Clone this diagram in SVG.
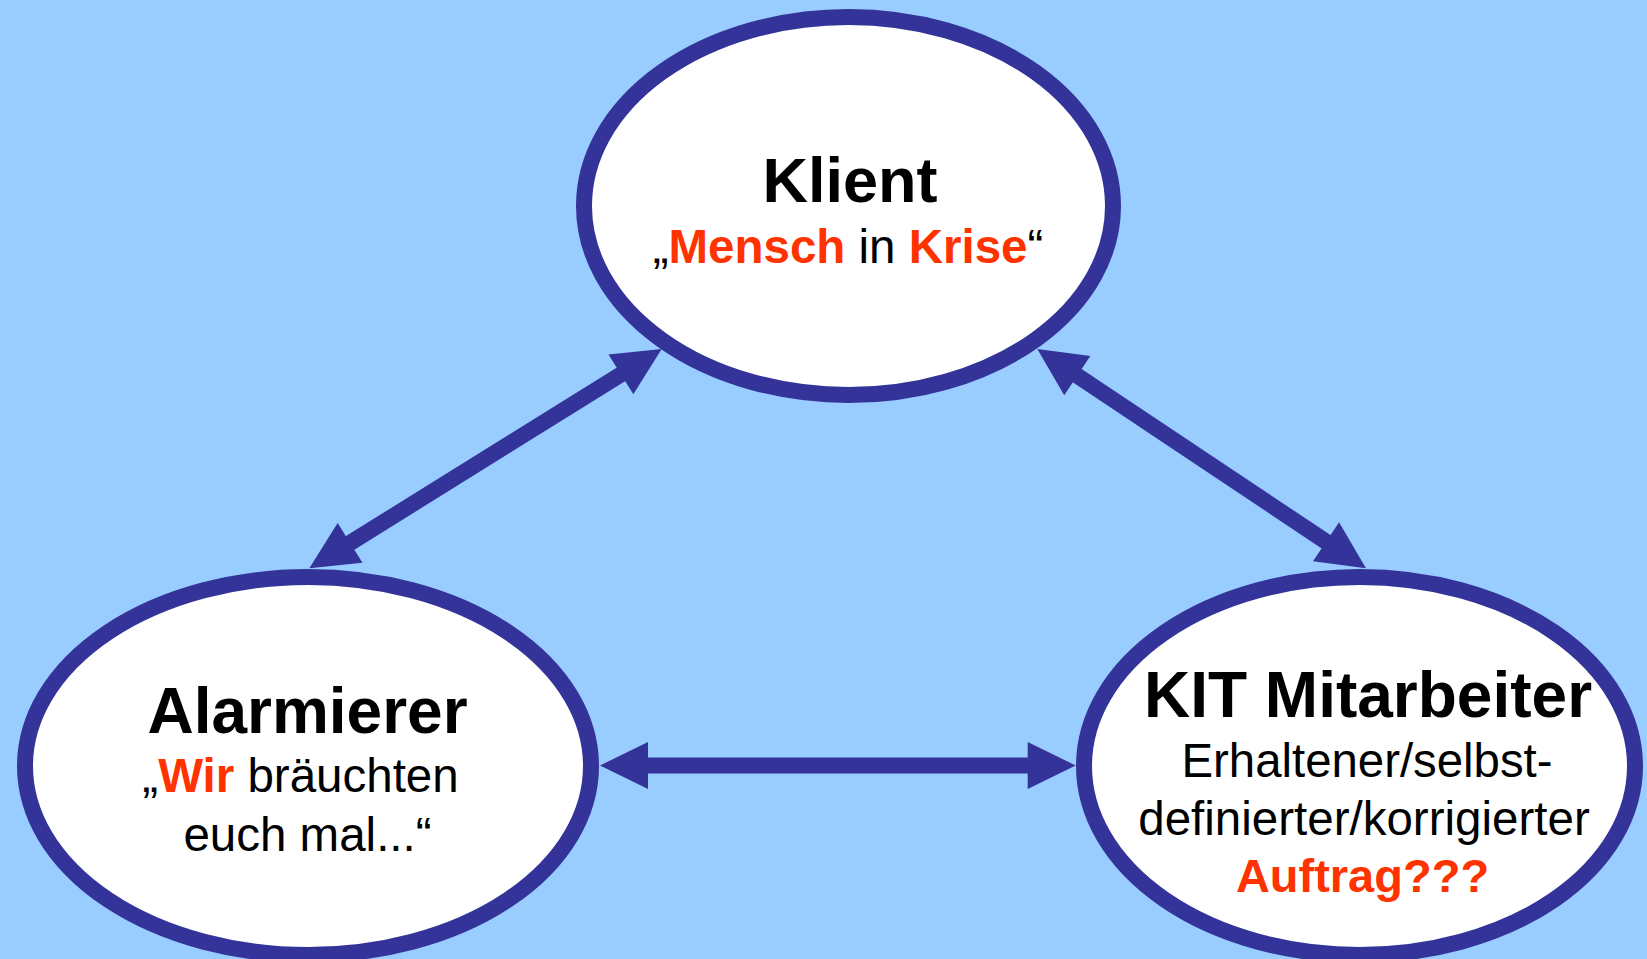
<svg xmlns="http://www.w3.org/2000/svg" width="1647" height="959" viewBox="0 0 1647 959">
  <style>
    .node ellipse { fill: #FFFFFF; stroke: #333399; stroke-width: 16; }
    text { font-family: "Liberation Sans", Arial, sans-serif; text-anchor: middle; fill: #000000; }
    .title { font-weight: bold; font-size: 64px; }
    .sub { font-size: 47.5px; }
    .red { fill: #FF3300; font-weight: bold; }
    .conn { stroke: #333399; stroke-width: 16; fill: none; marker-start: url(#head); marker-end: url(#head); }
  </style>
  <defs>
    <marker id="head" viewBox="0 0 48 47" markerUnits="userSpaceOnUse" markerWidth="48" markerHeight="47" refX="24" refY="23.5" orient="auto-start-reverse" overflow="visible">
      <path d="M0,0 L48,23.5 L0,47 Z" fill="#333399"/>
    </marker>
  </defs>
  <rect x="0" y="0" width="1647" height="959" fill="#99CCFF"/>

  <g id="connectors">
    <line class="conn" x1="329.7" y1="555.6" x2="641.3" y2="361.7"/>
    <line class="conn" x1="1057.3" y1="362.3" x2="1346.0" y2="555.0"/>
    <line class="conn" x1="624" y1="765.5" x2="1051.7" y2="765.5"/>
  </g>

  <g id="klient" class="node">
    <ellipse cx="848.5" cy="206" rx="264.5" ry="189"/>
    <text class="title" x="850" y="202" style="font-size:63px">Klient</text>
    <text class="sub" x="848" y="263">„<tspan class="red">Mensch</tspan> in <tspan class="red">Krise</tspan>“</text>
  </g>

  <g id="alarmierer" class="node">
    <ellipse cx="308" cy="766" rx="283" ry="189"/>
    <text class="title" x="307.5" y="733">Alarmierer</text>
    <text class="sub" x="300.5" y="792">„<tspan class="red">Wir</tspan> bräuchten</text>
    <text class="sub" x="307.5" y="851">euch mal...“</text>
  </g>

  <g id="kit" class="node">
    <ellipse cx="1359.5" cy="766" rx="275.5" ry="189"/>
    <text class="title" x="1368" y="717">KIT Mitarbeiter</text>
    <text class="sub" x="1367" y="777" textLength="371" lengthAdjust="spacingAndGlyphs">Erhaltener/selbst-</text>
    <text class="sub" x="1364" y="835">definierter/korrigierter</text>
    <text class="sub red" x="1362.5" y="892" style="font-size:47px">Auftrag???</text>
  </g>
</svg>
